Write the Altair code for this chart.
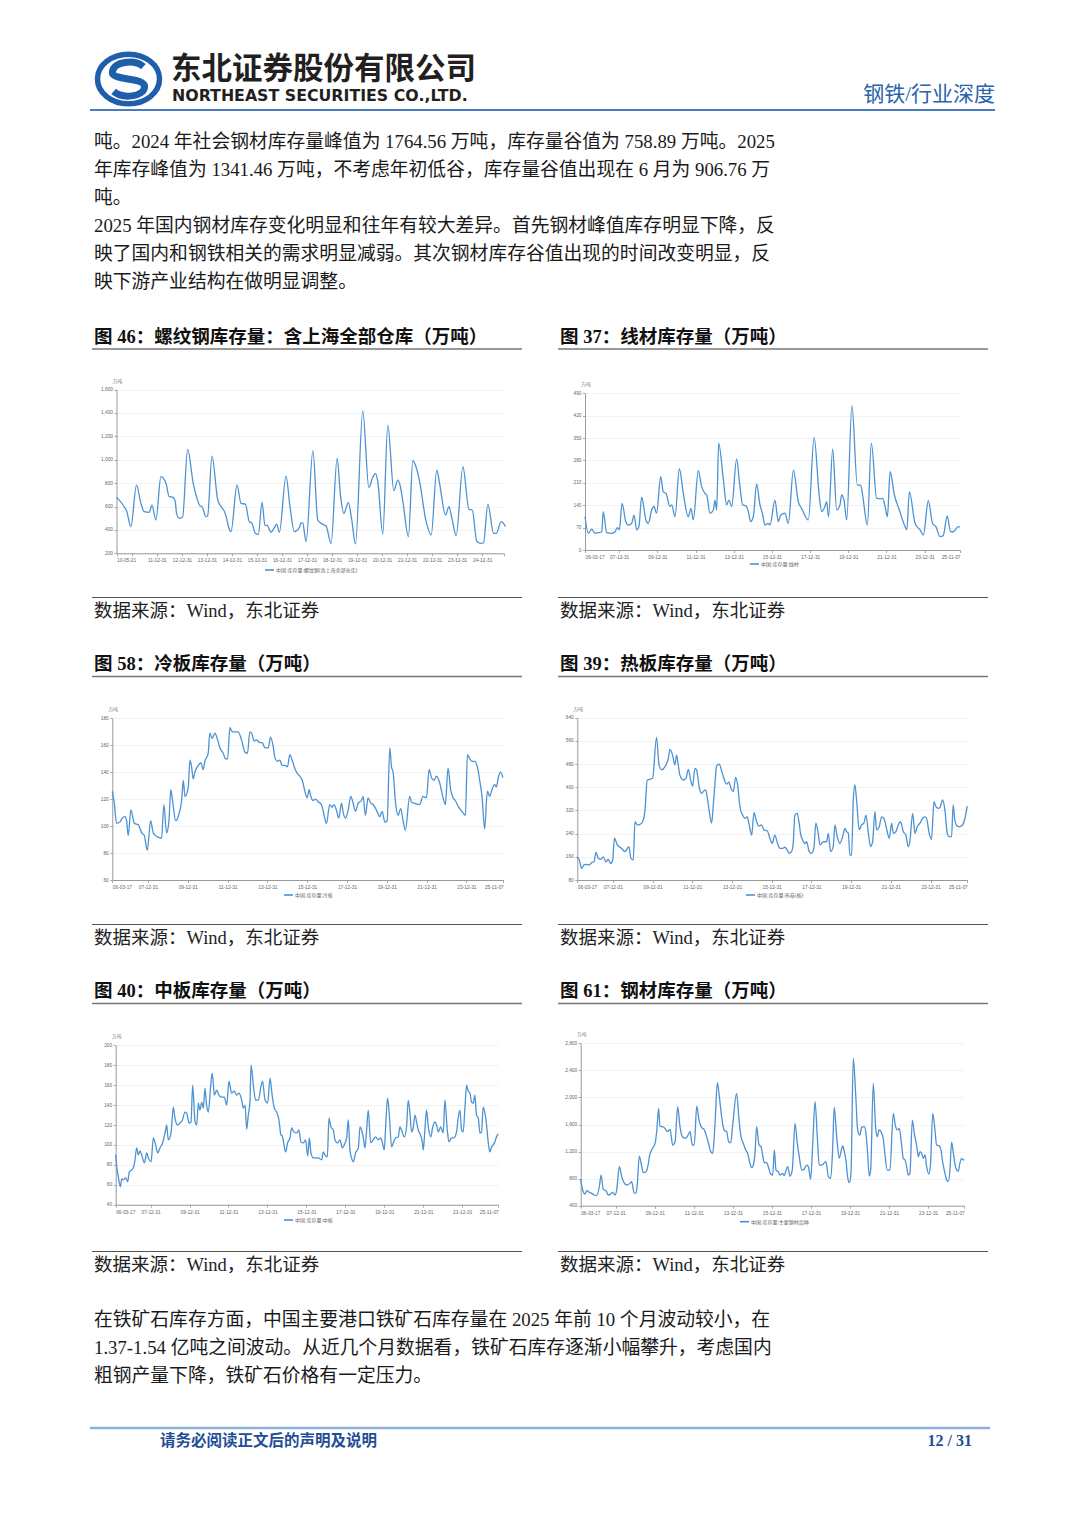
import altair as alt
import pandas as pd

# ------------------------------------------------------------------
# Series read off the six panels: months since the first observation
# and inventory level (万吨)
# ------------------------------------------------------------------
rebar_months = [0, 3.7, 4.8, 6.9, 9.6, 11.7, 13.3, 15.7, 17.0, 18.9,
                21.3, 23.7, 25.3, 26.9, 28.2, 28.8, 30.1, 31.7, 34.1, 36.8,
                38.1, 40.2, 41.0, 42.9, 43.7, 45.8, 48.5, 50.1, 51.7, 52.5,
                53.8, 54.9, 57.8, 59.7, 61.8, 63.7, 64.8, 66.6, 68.0, 69.8,
                71.2, 72.2, 74.1, 75.7, 76.8, 78.1, 81.3, 83.2, 85.3, 86.1,
                87.7, 88.5, 89.3, 90.9, 94.2, 96.5, 98.6, 100.5, 102.9, 105.8,
                107.4, 109.0, 111.2, 112.8, 114.6, 118.1, 121.0, 122.9, 124.2, 125.3,
                127.7, 130.1, 133.0, 134.9, 136.0, 137.3, 140.0, 142.1, 143.4, 145.0,
                148.5, 150.9, 153.6, 154.9, 157.8, 159.4, 161.0, 162.9, 166.1, 169.0,
                170.6, 172.8, 174.9, 176.0, 178.1, 180.8, 182.1, 184.5, 186.6]
rebar_values = [680, 598, 564, 428, 783, 627, 556, 550, 612, 485,
                855, 800, 684, 680, 640, 541, 499, 510, 1088, 798,
                700, 604, 600, 513, 520, 1031, 660, 600, 560, 520,
                420, 385, 783, 627, 620, 470, 460, 371, 360, 635,
                436, 440, 380, 420, 450, 379, 860, 598, 385, 390,
                420, 460, 460, 300, 1077, 485, 450, 433, 285, 1011,
                700, 541, 633, 485, 280, 1418, 763, 850, 883, 812,
                365, 1296, 735, 826, 780, 647, 342, 991, 950, 846,
                470, 356, 911, 800, 527, 598, 485, 351, 940, 576,
                570, 300, 285, 290, 621, 371, 370, 470, 428]

wire_months = [0, 2.1, 4.2, 6.3, 8.4, 10.5, 11.5, 13.6, 16.8, 18.9,
               20.3, 21.6, 23.3, 25.6, 27.2, 29.3, 30.8, 32.5, 33.9, 35.6,
               38.3, 39.8, 41.9, 43.4, 45.0, 47.6, 49.2, 50.9, 53.4, 54.5,
               56.6, 59.3, 61.8, 64.9, 66.6, 68.1, 71.2, 73.3, 75.4, 76.5,
               78.6, 80.7, 81.7, 82.8, 84.0, 87.0, 89.0, 90.5, 92.2, 95.3,
               97.4, 99.1, 101.2, 102.7, 104.1, 105.8, 107.9, 110.0, 111.5, 113.1,
               115.2, 116.3, 119.4, 121.5, 123.0, 125.7, 127.8, 131.0, 134.1, 136.2,
               140.4, 144.0, 147.3, 148.8, 150.8, 151.9, 153.1, 155.7, 158.2, 160.3,
               161.3, 162.8, 164.5, 167.8, 171.2, 173.3, 174.5, 177.5, 180.0, 183.3,
               185.8, 187.1, 188.6, 190.1, 191.8, 194.5, 197.6, 201.2, 202.3, 203.9,
               207.5, 210.6, 212.7, 215.8, 218.5, 220.6, 223.1, 225.2, 227.7, 229.8,
               231.5, 234.6, 235.7]
wire_values = [104, 52, 65, 52, 54, 57, 120, 54, 52, 57,
               70, 63, 146, 89, 78, 83, 109, 63, 73, 165,
               94, 83, 125, 136, 115, 229, 182, 177, 136, 141,
               104, 254, 177, 104, 130, 94, 248, 198, 177, 172,
               115, 125, 156, 125, 334, 219, 141, 156, 136, 284,
               198, 141, 138, 120, 89, 104, 206, 141, 115, 78,
               83, 78, 156, 89, 109, 115, 83, 250, 151, 130,
               94, 352, 167, 120, 136, 151, 104, 315, 125, 141,
               172, 156, 94, 451, 203, 203, 172, 78, 334, 162,
               160, 162, 136, 104, 245, 172, 125, 73, 63, 182,
               83, 63, 47, 154, 83, 73, 42, 45, 107, 57,
               57, 73, 71]

cold_months = [0, 1.2, 2.6, 4.6, 6.0, 7.6, 8.6, 9.6, 11.2, 13.3,
               15.7, 17.7, 19.3, 21.1, 23.1, 24.7, 27.3, 29.7, 31.1, 32.7,
               34.1, 35.3, 36.7, 38.2, 40.2, 41.8, 42.8, 43.8, 45.8, 46.8,
               47.8, 48.8, 49.8, 51.8, 53.4, 54.8, 55.8, 57.8, 58.8, 60.2,
               61.8, 63.5, 64.9, 66.9, 68.3, 69.5, 70.9, 72.3, 73.9, 75.9,
               77.9, 79.9, 81.5, 82.9, 84.3, 85.5, 86.9, 89.0, 90.4, 92.0,
               94.0, 95.4, 97.0, 98.0, 99.6, 101.0, 102.4, 104.0, 105.6, 107.0,
               108.4, 110.0, 111.6, 113.1, 114.5, 116.1, 117.5, 118.7, 119.7, 121.1,
               122.5, 124.1, 126.1, 127.7, 129.1, 131.1, 132.5, 133.7, 135.1, 136.5,
               138.2, 139.2, 140.6, 142.2, 143.8, 145.2, 146.6, 148.2, 150.2, 151.2,
               152.6, 154.2, 155.8, 157.2, 159.2, 161.2, 162.7, 164.3, 165.7, 167.3,
               168.3, 169.3, 170.7, 172.3, 173.9, 175.3, 176.7, 179.3, 180.3, 181.9,
               185.3, 187.3, 189.4, 191.0, 192.4, 194.0, 195.4, 197.4, 199.4, 200.8,
               202.4, 204.0, 205.4, 206.8, 208.4, 210.0, 211.4, 212.9, 214.1, 215.5,
               216.9, 218.5, 220.1, 221.5, 222.9, 224.5, 226.1, 227.5, 228.9, 230.5,
               231.5, 232.9, 234.1, 235.5]
cold_values = [126, 117, 102, 103, 106, 107, 104, 93, 112, 102,
               101, 95, 93, 82, 104, 95, 92, 91, 116, 95,
               103, 127, 115, 104, 109, 119, 134, 122, 129, 149,
               144, 135, 140, 145, 147, 142, 148, 154, 169, 165,
               169, 164, 158, 154, 150, 150, 173, 170, 170, 170,
               164, 155, 154, 170, 168, 163, 164, 162, 162, 158,
               158, 166, 159, 151, 148, 149, 145, 145, 144, 153,
               149, 143, 139, 137, 134, 126, 121, 127, 122, 119,
               120, 118, 116, 108, 102, 116, 114, 116, 112, 106,
               117, 110, 106, 112, 122, 117, 111, 117, 119, 122,
               108, 121, 117, 116, 112, 107, 111, 103, 104, 158,
               144, 140, 118, 108, 113, 104, 97, 122, 118, 117,
               116, 122, 121, 142, 136, 134, 137, 132, 121, 116,
               143, 127, 121, 119, 115, 112, 110, 108, 153, 150,
               148, 148, 144, 134, 122, 98, 126, 122, 127, 131,
               129, 137, 140, 136]

hot_months = [0, 1.2, 2.6, 4.0, 5.6, 7.3, 8.7, 10.1, 11.3, 12.7,
              14.1, 15.7, 17.3, 18.7, 20.1, 21.4, 22.4, 24.2, 26.8, 28.8,
              31.2, 32.4, 33.8, 34.9, 36.3, 37.9, 39.5, 40.9, 42.3, 43.5,
              45.5, 47.9, 49.4, 51.0, 53.0, 55.0, 56.0, 57.6, 59.0, 60.0,
              61.0, 62.0, 64.1, 65.7, 67.1, 68.5, 69.7, 71.1, 72.1, 73.7,
              75.1, 76.6, 77.6, 78.8, 79.8, 81.2, 82.2, 83.2, 84.2, 85.8,
              87.2, 88.6, 90.2, 91.7, 92.9, 94.3, 95.7, 96.9, 98.3, 99.9,
              101.3, 102.7, 103.9, 105.4, 106.8, 108.4, 109.8, 111.4, 112.8, 114.8,
              116.4, 117.8, 119.4, 120.9, 122.5, 124.1, 125.5, 126.9, 128.1, 129.5,
              130.5, 131.5, 132.9, 134.1, 134.9, 136.2, 137.6, 138.6, 140.2, 141.6,
              143.0, 144.2, 145.6, 146.7, 148.7, 150.7, 151.7, 153.1, 154.7, 155.7,
              157.1, 158.7, 160.4, 161.8, 162.8, 163.8, 164.8, 165.8, 166.8, 167.8,
              168.8, 170.4, 171.8, 173.2, 174.5, 175.9, 177.3, 178.5, 179.9, 180.9,
              182.5, 183.9, 185.3, 186.9, 188.6, 190.0, 191.0, 192.6, 194.0, 195.4,
              197.0, 198.6, 200.0, 201.0, 202.7, 204.1, 205.5, 207.1, 208.7, 210.1,
              211.1, 212.7, 214.1, 215.6, 216.8, 218.2, 219.2, 220.8, 222.2, 223.6,
              224.8, 226.2, 227.2, 228.2, 229.7, 231.3, 232.9, 234.3, 235.7]
hot_values = [160, 149, 120, 132, 134, 132, 140, 143, 175, 155,
              151, 160, 143, 151, 137, 149, 224, 201, 189, 178,
              195, 155, 149, 281, 270, 272, 281, 321, 425, 427,
              431, 572, 477, 460, 471, 500, 531, 511, 477, 511,
              477, 442, 425, 431, 462, 425, 404, 465, 460, 400,
              379, 388, 391, 356, 316, 276, 339, 413, 473, 480,
              457, 431, 411, 418, 396, 385, 434, 408, 333, 304,
              293, 298, 270, 235, 312, 281, 266, 270, 253, 250,
              224, 206, 235, 209, 189, 189, 193, 183, 172, 178,
              206, 304, 310, 276, 241, 218, 206, 212, 178, 172,
              189, 276, 241, 201, 212, 212, 241, 178, 195, 270,
              230, 206, 230, 258, 247, 241, 166, 166, 356, 408,
              356, 253, 270, 276, 304, 243, 195, 212, 316, 253,
              264, 298, 293, 258, 224, 276, 241, 247, 270, 281,
              247, 235, 195, 212, 310, 241, 264, 276, 293, 298,
              293, 241, 220, 350, 333, 327, 330, 356, 321, 241,
              230, 230, 339, 287, 266, 264, 270, 293, 335]

plate_months = [0, 0.8, 1.6, 2.9, 3.7, 4.7, 6.2, 7.4, 8.4, 9.9,
                10.9, 11.9, 12.9, 14.0, 15.0, 16.0, 17.7, 19.1, 20.1, 21.8,
                23.2, 24.6, 25.9, 27.3, 28.9, 30.4, 31.4, 32.4, 34.1, 35.5,
                36.5, 38.2, 39.6, 41.1, 42.7, 43.7, 45.2, 46.4, 47.4, 48.9,
                49.9, 50.9, 51.9, 53.0, 54.0, 55.0, 56.0, 57.1, 58.5, 59.5,
                60.8, 62.2, 63.6, 65.3, 66.9, 68.4, 69.8, 71.4, 73.1, 74.5,
                76.0, 77.6, 78.6, 79.7, 80.7, 81.7, 82.7, 83.4, 84.8, 86.2,
                87.9, 89.3, 90.5, 92.0, 93.6, 95.1, 96.1, 97.7, 99.2, 100.6,
                101.8, 102.6, 103.5, 104.7, 105.9, 107.4, 108.4, 109.8, 111.5, 112.9,
                114.1, 115.6, 117.0, 118.3, 119.3, 120.3, 121.7, 123.2, 124.8, 126.9,
                127.9, 128.9, 130.4, 131.4, 132.6, 134.1, 135.1, 136.7, 138.2, 139.6,
                140.8, 142.3, 143.3, 144.3, 145.3, 146.4, 147.8, 149.5, 150.5, 151.5,
                152.5, 153.6, 154.6, 155.6, 157.1, 158.7, 160.1, 161.8, 163.2, 164.2,
                165.5, 166.3, 167.5, 168.5, 170.0, 171.0, 172.4, 174.1, 175.1, 176.1,
                177.8, 179.2, 180.2, 181.3, 182.3, 183.3, 184.4, 185.4, 186.4, 187.8,
                188.9, 189.5, 190.5, 191.5, 192.6, 194.2, 195.2, 196.7, 197.7, 198.7,
                200.2, 201.8, 202.8, 204.3, 205.3, 206.9, 208.4, 210.0, 211.0, 212.1,
                213.1, 214.1, 215.2, 216.2, 217.2, 218.2, 219.3, 220.3, 221.3, 222.3,
                223.4, 224.4, 225.4, 226.4, 227.5, 228.5, 229.5, 230.5, 231.6, 232.6,
                233.6, 234.6, 235.7]
plate_values = [90, 76, 68, 58, 66, 65, 67, 63, 73, 75,
                77, 85, 97, 90, 94, 90, 82, 92, 87, 83,
                107, 100, 92, 97, 102, 112, 120, 105, 112, 138,
                127, 120, 122, 125, 133, 132, 122, 123, 160, 123,
                120, 142, 135, 143, 137, 157, 140, 133, 159, 172,
                150, 155, 150, 148, 148, 140, 164, 152, 154, 150,
                152, 145, 137, 140, 116, 130, 143, 180, 160, 145,
                145, 157, 164, 145, 142, 167, 154, 137, 133, 125,
                110, 109, 102, 93, 102, 107, 117, 113, 112, 115,
                103, 102, 105, 89, 107, 92, 87, 87, 87, 85,
                93, 90, 88, 127, 118, 115, 105, 102, 105, 97,
                100, 107, 125, 95, 87, 83, 92, 97, 118, 115,
                108, 97, 115, 135, 102, 105, 108, 105, 107, 103,
                95, 118, 147, 132, 98, 102, 107, 108, 118, 115,
                108, 118, 145, 132, 113, 117, 130, 123, 115, 110,
                103, 95, 115, 135, 118, 108, 117, 123, 120, 113,
                118, 112, 145, 115, 103, 107, 107, 113, 127, 135,
                115, 113, 138, 160, 154, 152, 143, 142, 150, 130,
                127, 112, 113, 138, 132, 120, 103, 93, 98, 100,
                103, 108, 111]

steel_months = [0, 1.2, 2.7, 3.7, 5.3, 6.8, 8.4, 9.8, 11.5, 12.5,
                13.9, 15.6, 17.0, 18.4, 19.7, 21.1, 22.1, 23.8, 25.2, 26.6,
                28.3, 30.3, 31.3, 32.8, 34.0, 34.8, 36.0, 37.5, 38.5, 40.1,
                41.6, 42.2, 43.6, 45.7, 46.7, 47.9, 48.7, 50.2, 51.8, 53.2,
                54.9, 56.5, 58.0, 59.6, 61.0, 62.5, 64.1, 65.5, 67.2, 68.6,
                69.8, 71.3, 72.7, 74.3, 75.8, 77.4, 78.8, 79.9, 81.1, 82.5,
                84.0, 85.2, 86.6, 88.1, 89.7, 90.9, 92.2, 93.4, 95.8, 97.3,
                98.5, 99.9, 101.4, 102.6, 104.0, 105.1, 106.1, 107.1, 108.1, 109.6,
                110.8, 111.8, 112.8, 114.3, 115.3, 116.7, 118.0, 119.0, 120.0, 121.4,
                122.5, 124.1, 125.1, 126.2, 127.2, 128.6, 130.0, 131.7, 133.1, 134.3,
                135.8, 137.2, 138.8, 139.9, 141.3, 142.5, 144.0, 145.4, 146.6, 148.1,
                149.5, 150.7, 152.2, 153.6, 154.8, 155.8, 157.3, 158.9, 159.7, 161.0,
                162.0, 163.0, 164.0, 165.1, 166.1, 167.5, 169.0, 170.2, 171.6, 172.6,
                174.3, 175.3, 176.1, 177.4, 178.2, 179.8, 181.2, 182.3, 183.3, 184.5,
                185.9, 187.0, 188.4, 190.0, 192.1, 193.5, 194.8, 195.8, 197.2, 198.2,
                199.3, 200.3, 201.3, 202.3, 203.8, 205.0, 206.4, 207.5, 208.5, 209.5,
                210.5, 211.6, 212.6, 214.0, 215.0, 216.3, 217.7, 218.7, 220.4, 221.4,
                222.4, 223.4, 224.9, 225.9, 226.9, 227.9, 229.0, 230.6, 232.0, 233.0,
                234.1, 235.1, 235.7]
steel_values = [794, 632, 572, 622, 597, 582, 558, 548, 691, 853,
                641, 617, 558, 572, 597, 558, 632, 977, 829, 740,
                706, 730, 755, 592, 582, 730, 1134, 977, 888, 903,
                1026, 1124, 1223, 1322, 1494, 1839, 1568, 1568, 1543, 1494,
                1528, 1297, 1346, 1864, 1568, 1420, 1395, 1420, 1494, 1297,
                1297, 1873, 1666, 1558, 1528, 1420, 1297, 1198, 1174, 1593,
                2218, 2011, 1716, 1519, 1494, 1346, 1331, 1593, 2061, 1666,
                1420, 1322, 1223, 1174, 1026, 962, 1001, 1174, 1568, 1297,
                1272, 1149, 1036, 1036, 977, 868, 853, 1223, 927, 903,
                853, 878, 843, 927, 977, 838, 927, 1617, 1322, 1124,
                927, 937, 1001, 977, 789, 1272, 1938, 1420, 1001, 1001,
                1026, 1050, 829, 804, 1223, 1854, 1420, 1100, 1174, 1282,
                1198, 1075, 829, 740, 878, 2578, 2036, 1519, 1445, 1558,
                1568, 1469, 1248, 838, 927, 2209, 1568, 1420, 1519, 1494,
                1395, 1149, 927, 927, 1765, 1568, 1519, 1543, 1297, 1100,
                1075, 977, 853, 878, 1666, 1469, 1297, 1124, 1198, 1174,
                1100, 1149, 977, 868, 1026, 1765, 1519, 1297, 1282, 1223,
                1050, 927, 779, 759, 927, 1341, 1174, 952, 907, 1026,
                1100, 1075, 1085]

# axis tick values
rebar_ticks = [200, 400, 600, 800, 1000, 1200, 1400, 1600]
wire_ticks = [0, 70, 140, 210, 280, 350, 420, 490]
cold_ticks = [60, 80, 100, 120, 140, 160, 180]
hot_ticks = [80, 160, 240, 320, 400, 480, 560, 640]
plate_ticks = [40, 60, 80, 100, 120, 140, 160, 180, 200]
steel_ticks = [400, 800, 1200, 1600, 2000, 2400, 2800]
rebar_label_years = list(range(2010, 2025))
other_label_years = [2007, 2009, 2011, 2013, 2015, 2017, 2019, 2021, 2023]

# text
header_cn = "东北证券股份有限公司"
header_en = "NORTHEAST SECURITIES CO.,LTD."
header_tag = "钢铁/行业深度"
para_top = [
    "吨。2024 年社会钢材库存量峰值为 1764.56 万吨，库存量谷值为 758.89 万吨。2025",
    "年库存峰值为 1341.46 万吨，不考虑年初低谷，库存量谷值出现在 6 月为 906.76 万",
    "吨。",
    "2025 年国内钢材库存变化明显和往年有较大差异。首先钢材峰值库存明显下降，反",
    "映了国内和钢铁相关的需求明显减弱。其次钢材库存谷值出现的时间改变明显，反",
    "映下游产业结构在做明显调整。",
]
para_bottom = [
    "在铁矿石库存方面，中国主要港口铁矿石库存量在 2025 年前 10 个月波动较小，在",
    "1.37-1.54 亿吨之间波动。从近几个月数据看，铁矿石库存逐渐小幅攀升，考虑国内",
    "粗钢产量下降，铁矿石价格有一定压力。",
]
fig_titles = [
    "图 46：螺纹钢库存量：含上海全部仓库（万吨）", "图 37：线材库存量（万吨）",
    "图 58：冷板库存量（万吨）", "图 39：热板库存量（万吨）",
    "图 40：中板库存量（万吨）", "图 61：钢材库存量（万吨）",
]
source_text = "数据来源：Wind，东北证券"
legend_labels = ["中国:库存量:螺纹钢(含上海全部仓库)", "中国:库存量:线材", "中国:库存量:冷板",
                 "中国:库存量:热卷(板)", "中国:库存量:中板", "中国:库存量:主要钢材品种"]
footer_left = "请务必阅读正文后的声明及说明"
footer_right = "12 / 31"

# ------------------------------------------------------------------
PAGE_W, PAGE_H = 1064, 1510


def px(v):
    return v - 8


SERIF = "Liberation Serif, Noto Sans CJK SC, serif"
CJK = "Noto Sans CJK SC"
AXF = "Liberation Sans, Noto Sans CJK SC, sans-serif"
LINE_BLUE = "#4d92d2"
ONE = pd.DataFrame({"k": [0]})


def text(s, x, y, size, color="#1a1a1a", weight="normal", font=SERIF, align="left"):
    return alt.Chart(ONE).mark_text(
        text=s, align=align, baseline="middle", fontSize=size, font=font,
        fontWeight=weight, color=color
    ).encode(x=alt.value(px(x)), y=alt.value(px(y)))


def hrule(x1, x2, y, color, width):
    return alt.Chart(ONE).mark_rule(color=color, strokeWidth=width).encode(
        x=alt.value(px(x1)), x2=alt.value(px(x2)), y=alt.value(px(y)))


def dt(ts):
    return alt.DateTime(year=ts.year, month=ts.month, date=ts.day)


def panel(start, end, months, values, ydom, yticks, yfmt, label_years, box, legend, leg):
    x0, x1, ytop, ybot = box
    s = pd.Timestamp(start)
    e = pd.Timestamp(end)
    dates = [s + pd.Timedelta(days=m * 30.4375) for m in months]
    df = pd.DataFrame({"date": dates, "value": values})
    xvals = [dt(s)] + [alt.DateTime(year=y, month=12, date=31) for y in label_years] + [dt(e)]
    line = alt.Chart(df).mark_line(color=LINE_BLUE, strokeWidth=1.3, interpolate="monotone").encode(
        x=alt.X("date:T",
                scale=alt.Scale(domain=[dt(s), dt(e)], range=[px(x0), px(x1)]),
                axis=alt.Axis(orient="bottom", offset=px(ybot) - PAGE_H, values=xvals,
                              format="%y-%m-%d", labelFontSize=4.8, labelColor="#666",
                              labelFont=AXF, tickSize=2.5, tickColor="#aaa",
                              domainColor="#999", grid=False, title=None, labelPadding=2,
                              labelOverlap="greedy", labelAngle=0)),
        y=alt.Y("value:Q",
                scale=alt.Scale(domain=list(ydom), range=[px(ybot), px(ytop)], nice=False, zero=False),
                axis=alt.Axis(orient="left", offset=-px(x0), values=yticks, format=yfmt,
                              labelFontSize=4.8, labelColor="#666", labelFont=AXF,
                              tickSize=2.5, tickColor="#aaa", domainColor="#999",
                              grid=True, gridColor="#efefef", gridWidth=0.8,
                              title=None, labelPadding=1.5)),
    )
    lx, ly = leg
    return [
        line,
        text("万吨", x0 + 1, ytop - 8, 4.8, "#777", font=AXF, align="center"),
        hrule(lx, lx + 9, ly, LINE_BLUE, 1.6),
        text(legend, lx + 11, ly, 5, "#666", font=AXF),
    ]


layers = []

# ---- header ----
ring_path = "M -1 0 A 1 0.8 0 1 0 1 0 A 1 0.8 0 1 0 -1 0 Z"
s_path = ("M 0.48 -0.40 C 0.2 -0.64 -0.5 -0.58 -0.52 -0.22 C -0.54 0.06 0.52 -0.06 0.52 0.24 "
          "C 0.5 0.6 -0.22 0.64 -0.48 0.40")
LOGO_BLUE = "#1f5eab"
layers.append(alt.Chart(ONE).mark_point(shape=ring_path, filled=False, stroke=LOGO_BLUE,
                                        strokeWidth=5.5, size=62 * 62, opacity=1)
              .encode(x=alt.value(px(128.5)), y=alt.value(px(79))))
layers.append(alt.Chart(ONE).mark_point(shape=s_path, filled=False, stroke=LOGO_BLUE,
                                        strokeWidth=7, size=62 * 62, opacity=1)
              .encode(x=alt.value(px(128.5)), y=alt.value(px(79))))
layers.append(text(header_cn, 171, 70, 30.5, "#231f20", "bold", CJK))
layers.append(text(header_en, 172, 96, 15.8, "#231f20", "bold", "DejaVu Sans"))
layers.append(text(header_tag, 995, 95, 21, "#2a62ad", "normal", SERIF, "right"))
layers.append(hrule(90, 995, 110, "#4a7cc0", 2))

# ---- paragraphs ----
for i, line in enumerate(para_top):
    layers.append(text(line, 94, 142 + 28 * i, 18.8))
for i, line in enumerate(para_bottom):
    layers.append(text(line, 94, 1320 + 28 * i, 18.8))

# ---- figure frames ----
rows = [(337, 349, 597.5, 611), (664, 676.5, 924.5, 938), (991, 1003.5, 1251.5, 1265)]
cols = [(94, 92, 522), (560, 558, 988)]
for r, (ty, uy, sy, sty) in enumerate(rows):
    for c, (tx, rx1, rx2) in enumerate(cols):
        layers.append(text(fig_titles[2 * r + c], tx, ty, 18.5, "#111", "bold"))
        layers.append(hrule(rx1, rx2, uy, "#777", 1.5))
        layers.append(hrule(rx1, rx2, sy, "#555", 1))
        layers.append(text(source_text, tx, sty, 18.5, "#222"))

# ---- panels ----
layers += panel("2010-05-21", "2025-11-14", rebar_months, rebar_values, (200, 1600), rebar_ticks, ",.0f",
                rebar_label_years, (116.5, 504, 389.5, 553.3), legend_labels[0], (265, 570))
layers += panel("2006-03-17", "2025-11-07", wire_months, wire_values, (0, 490), wire_ticks, "d",
                other_label_years, (585, 960, 393.3, 550), legend_labels[1], (750, 564))
layers += panel("2006-03-17", "2025-11-07", cold_months, cold_values, (60, 180), cold_ticks, "d",
                other_label_years, (112.3, 503.3, 718.3, 880), legend_labels[2], (284, 895))
layers += panel("2006-03-17", "2025-11-07", hot_months, hot_values, (80, 640), hot_ticks, "d",
                other_label_years, (577.3, 967.3, 717.7, 880), legend_labels[3], (746, 895))
layers += panel("2006-03-17", "2025-11-07", plate_months, plate_values, (40, 200), plate_ticks, "d",
                other_label_years, (115.7, 498.3, 1045.3, 1204.7), legend_labels[4], (284, 1220))
layers += panel("2006-03-17", "2025-11-07", steel_months, steel_values, (400, 2800), steel_ticks, ",.0f",
                other_label_years, (580.7, 964.3, 1043.3, 1205.7), legend_labels[5], (740, 1221.7))

# ---- footer ----
layers.append(hrule(90, 990, 1428, "#8db1dd", 2.5))
layers.append(text(footer_left, 160, 1441, 15.5, "#1f4e96", "bold"))
layers.append(text(footer_right, 972, 1441, 16, "#1f4e96", "bold", SERIF, "right"))

chart = (
    alt.layer(*layers)
    .resolve_scale(x="independent", y="independent")
    .resolve_axis(x="independent", y="independent")
    .properties(width=PAGE_W, height=PAGE_H, padding=0,
                autosize=alt.AutoSizeParams(type="none"), background="white")
    .configure_view(strokeWidth=0)
)

chart.save("out.html", embed_options={"renderer": "svg", "actions": False})
